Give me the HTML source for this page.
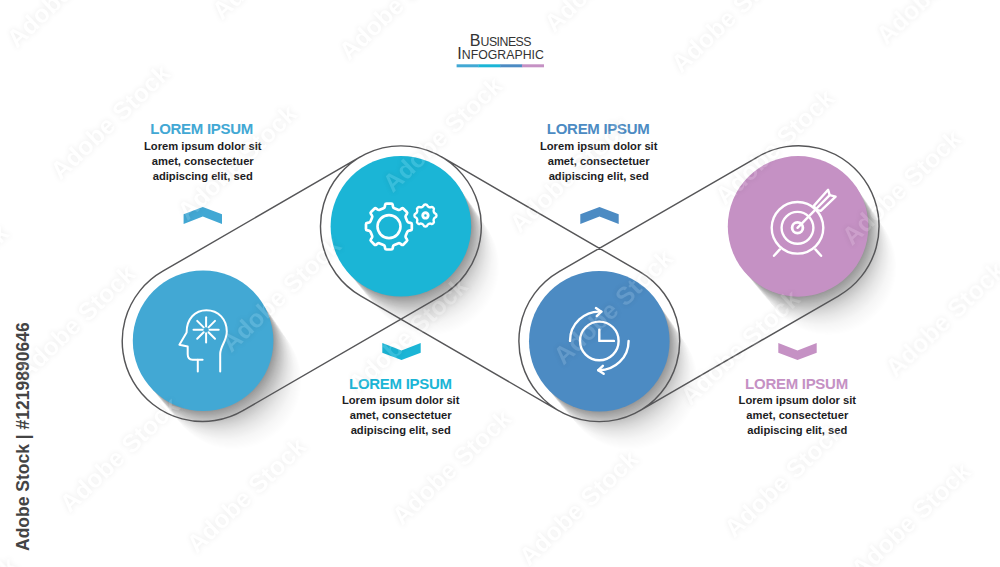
<!DOCTYPE html>
<html lang="en">
<head>
<meta charset="utf-8">
<title>Business Infographic</title>
<style>
html,body{margin:0;padding:0;background:#fff;}
body{width:1000px;height:567px;overflow:hidden;position:relative;font-family:"Liberation Sans",sans-serif;}
svg{position:absolute;left:0;top:0;display:block;}
text{font-family:"Liberation Sans",sans-serif;}
.h{font-weight:bold;font-size:15px;letter-spacing:-0.28px;}
.b{font-weight:bold;font-size:11.2px;fill:#1d1d1f;letter-spacing:0;}
.t1{font-size:16.1px;fill:#333;}
.t2{font-size:12.3px;fill:#333;letter-spacing:-0.5px;}
.t3{font-size:12.3px;fill:#333;letter-spacing:0px;}
.ic{fill:none;stroke:#fff;stroke-linecap:round;stroke-linejoin:round;}
</style>
</head>
<body>
<svg width="1000" height="567" viewBox="0 0 1000 567">
<rect width="1000" height="567" fill="#fff"/>

<g text-anchor="middle">
<text x="500.4" y="45.8"><tspan class="t1">B</tspan><tspan class="t2">USINESS</tspan></text>
<text x="500.6" y="59.1"><tspan class="t1">I</tspan><tspan class="t3">NFOGRAPHIC</tspan></text>
</g>
<rect x="456.60" y="64.3" width="22.08" height="3" fill="#42a8d4"/>
<rect x="478.38" y="64.3" width="22.08" height="3" fill="#1bb5d6"/>
<rect x="500.15" y="64.3" width="22.08" height="3" fill="#4c8bc3"/>
<rect x="521.93" y="64.3" width="22.08" height="3" fill="#c591c4"/>
<g id="shadows">
<g fill="#000">
<circle cx="243.5" cy="394.5" r="68.00" fill-opacity="0.0000"/>
<circle cx="242.7" cy="393.4" r="68.04" fill-opacity="0.0001"/>
<circle cx="241.9" cy="392.2" r="68.08" fill-opacity="0.0001"/>
<circle cx="241.0" cy="391.1" r="68.12" fill-opacity="0.0003"/>
<circle cx="240.2" cy="390.0" r="68.16" fill-opacity="0.0004"/>
<circle cx="239.3" cy="388.9" r="68.20" fill-opacity="0.0005"/>
<circle cx="238.5" cy="387.8" r="68.24" fill-opacity="0.0007"/>
<circle cx="237.6" cy="386.6" r="68.28" fill-opacity="0.0009"/>
<circle cx="236.8" cy="385.5" r="68.32" fill-opacity="0.0011"/>
<circle cx="236.0" cy="384.4" r="68.36" fill-opacity="0.0014"/>
<circle cx="235.1" cy="383.3" r="68.40" fill-opacity="0.0016"/>
<circle cx="234.3" cy="382.2" r="68.44" fill-opacity="0.0019"/>
<circle cx="233.4" cy="381.1" r="68.47" fill-opacity="0.0022"/>
<circle cx="232.6" cy="379.9" r="68.51" fill-opacity="0.0025"/>
<circle cx="231.7" cy="378.8" r="68.55" fill-opacity="0.0028"/>
<circle cx="230.9" cy="377.7" r="68.59" fill-opacity="0.0032"/>
<circle cx="230.1" cy="376.6" r="68.63" fill-opacity="0.0035"/>
<circle cx="229.2" cy="375.5" r="68.67" fill-opacity="0.0039"/>
<circle cx="228.4" cy="374.3" r="68.71" fill-opacity="0.0043"/>
<circle cx="227.5" cy="373.2" r="68.75" fill-opacity="0.0048"/>
<circle cx="226.7" cy="372.1" r="68.79" fill-opacity="0.0052"/>
<circle cx="225.8" cy="371.0" r="68.83" fill-opacity="0.0057"/>
<circle cx="225.0" cy="369.9" r="68.87" fill-opacity="0.0062"/>
<circle cx="224.2" cy="368.8" r="68.91" fill-opacity="0.0067"/>
<circle cx="223.3" cy="367.6" r="68.95" fill-opacity="0.0072"/>
<circle cx="222.5" cy="366.5" r="68.99" fill-opacity="0.0078"/>
<circle cx="221.6" cy="365.4" r="69.03" fill-opacity="0.0084"/>
<circle cx="220.8" cy="364.3" r="69.07" fill-opacity="0.0090"/>
<circle cx="220.0" cy="363.2" r="69.11" fill-opacity="0.0097"/>
<circle cx="219.1" cy="362.0" r="69.15" fill-opacity="0.0104"/>
<circle cx="218.3" cy="360.9" r="69.19" fill-opacity="0.0111"/>
<circle cx="217.4" cy="359.8" r="69.23" fill-opacity="0.0118"/>
<circle cx="216.6" cy="358.7" r="69.27" fill-opacity="0.0126"/>
<circle cx="215.7" cy="357.6" r="69.31" fill-opacity="0.0135"/>
<circle cx="214.9" cy="356.5" r="69.35" fill-opacity="0.0143"/>
<circle cx="214.1" cy="355.3" r="69.39" fill-opacity="0.0153"/>
<circle cx="213.2" cy="354.2" r="69.43" fill-opacity="0.0163"/>
<circle cx="212.4" cy="353.1" r="69.46" fill-opacity="0.0173"/>
<circle cx="211.5" cy="352.0" r="69.50" fill-opacity="0.0184"/>
<circle cx="210.7" cy="350.9" r="69.54" fill-opacity="0.0196"/>
<circle cx="209.8" cy="349.7" r="69.58" fill-opacity="0.0209"/>
<circle cx="209.0" cy="348.6" r="69.62" fill-opacity="0.0222"/>
<circle cx="208.2" cy="347.5" r="69.66" fill-opacity="0.0236"/>
<circle cx="207.3" cy="346.4" r="69.70" fill-opacity="0.0252"/>
<circle cx="206.5" cy="345.3" r="69.74" fill-opacity="0.0269"/>
<circle cx="205.6" cy="344.2" r="69.78" fill-opacity="0.0287"/>
<circle cx="204.8" cy="343.0" r="69.82" fill-opacity="0.0306"/>
<circle cx="203.9" cy="341.9" r="69.86" fill-opacity="0.0328"/>
</g>
<g fill="#000">
<circle cx="441.3" cy="280.0" r="68.00" fill-opacity="0.0000"/>
<circle cx="440.5" cy="278.9" r="68.04" fill-opacity="0.0001"/>
<circle cx="439.7" cy="277.7" r="68.08" fill-opacity="0.0001"/>
<circle cx="438.8" cy="276.6" r="68.12" fill-opacity="0.0003"/>
<circle cx="438.0" cy="275.5" r="68.16" fill-opacity="0.0004"/>
<circle cx="437.1" cy="274.4" r="68.20" fill-opacity="0.0005"/>
<circle cx="436.3" cy="273.3" r="68.24" fill-opacity="0.0007"/>
<circle cx="435.4" cy="272.1" r="68.28" fill-opacity="0.0009"/>
<circle cx="434.6" cy="271.0" r="68.32" fill-opacity="0.0011"/>
<circle cx="433.8" cy="269.9" r="68.36" fill-opacity="0.0014"/>
<circle cx="432.9" cy="268.8" r="68.40" fill-opacity="0.0016"/>
<circle cx="432.1" cy="267.7" r="68.44" fill-opacity="0.0019"/>
<circle cx="431.2" cy="266.6" r="68.47" fill-opacity="0.0022"/>
<circle cx="430.4" cy="265.4" r="68.51" fill-opacity="0.0025"/>
<circle cx="429.5" cy="264.3" r="68.55" fill-opacity="0.0028"/>
<circle cx="428.7" cy="263.2" r="68.59" fill-opacity="0.0032"/>
<circle cx="427.9" cy="262.1" r="68.63" fill-opacity="0.0035"/>
<circle cx="427.0" cy="261.0" r="68.67" fill-opacity="0.0039"/>
<circle cx="426.2" cy="259.8" r="68.71" fill-opacity="0.0043"/>
<circle cx="425.3" cy="258.7" r="68.75" fill-opacity="0.0048"/>
<circle cx="424.5" cy="257.6" r="68.79" fill-opacity="0.0052"/>
<circle cx="423.6" cy="256.5" r="68.83" fill-opacity="0.0057"/>
<circle cx="422.8" cy="255.4" r="68.87" fill-opacity="0.0062"/>
<circle cx="422.0" cy="254.3" r="68.91" fill-opacity="0.0067"/>
<circle cx="421.1" cy="253.1" r="68.95" fill-opacity="0.0072"/>
<circle cx="420.3" cy="252.0" r="68.99" fill-opacity="0.0078"/>
<circle cx="419.4" cy="250.9" r="69.03" fill-opacity="0.0084"/>
<circle cx="418.6" cy="249.8" r="69.07" fill-opacity="0.0090"/>
<circle cx="417.8" cy="248.7" r="69.11" fill-opacity="0.0097"/>
<circle cx="416.9" cy="247.5" r="69.15" fill-opacity="0.0104"/>
<circle cx="416.1" cy="246.4" r="69.19" fill-opacity="0.0111"/>
<circle cx="415.2" cy="245.3" r="69.23" fill-opacity="0.0118"/>
<circle cx="414.4" cy="244.2" r="69.27" fill-opacity="0.0126"/>
<circle cx="413.5" cy="243.1" r="69.31" fill-opacity="0.0135"/>
<circle cx="412.7" cy="242.0" r="69.35" fill-opacity="0.0143"/>
<circle cx="411.9" cy="240.8" r="69.39" fill-opacity="0.0153"/>
<circle cx="411.0" cy="239.7" r="69.43" fill-opacity="0.0163"/>
<circle cx="410.2" cy="238.6" r="69.46" fill-opacity="0.0173"/>
<circle cx="409.3" cy="237.5" r="69.50" fill-opacity="0.0184"/>
<circle cx="408.5" cy="236.4" r="69.54" fill-opacity="0.0196"/>
<circle cx="407.6" cy="235.2" r="69.58" fill-opacity="0.0209"/>
<circle cx="406.8" cy="234.1" r="69.62" fill-opacity="0.0222"/>
<circle cx="406.0" cy="233.0" r="69.66" fill-opacity="0.0236"/>
<circle cx="405.1" cy="231.9" r="69.70" fill-opacity="0.0252"/>
<circle cx="404.3" cy="230.8" r="69.74" fill-opacity="0.0269"/>
<circle cx="403.4" cy="229.7" r="69.78" fill-opacity="0.0287"/>
<circle cx="402.6" cy="228.5" r="69.82" fill-opacity="0.0306"/>
<circle cx="401.7" cy="227.4" r="69.86" fill-opacity="0.0328"/>
</g>
<g fill="#000">
<circle cx="639.7" cy="394.9" r="68.00" fill-opacity="0.0000"/>
<circle cx="638.9" cy="393.8" r="68.04" fill-opacity="0.0001"/>
<circle cx="638.1" cy="392.6" r="68.08" fill-opacity="0.0001"/>
<circle cx="637.2" cy="391.5" r="68.12" fill-opacity="0.0003"/>
<circle cx="636.4" cy="390.4" r="68.16" fill-opacity="0.0004"/>
<circle cx="635.5" cy="389.3" r="68.20" fill-opacity="0.0005"/>
<circle cx="634.7" cy="388.2" r="68.24" fill-opacity="0.0007"/>
<circle cx="633.8" cy="387.0" r="68.28" fill-opacity="0.0009"/>
<circle cx="633.0" cy="385.9" r="68.32" fill-opacity="0.0011"/>
<circle cx="632.2" cy="384.8" r="68.36" fill-opacity="0.0014"/>
<circle cx="631.3" cy="383.7" r="68.40" fill-opacity="0.0016"/>
<circle cx="630.5" cy="382.6" r="68.44" fill-opacity="0.0019"/>
<circle cx="629.6" cy="381.5" r="68.47" fill-opacity="0.0022"/>
<circle cx="628.8" cy="380.3" r="68.51" fill-opacity="0.0025"/>
<circle cx="627.9" cy="379.2" r="68.55" fill-opacity="0.0028"/>
<circle cx="627.1" cy="378.1" r="68.59" fill-opacity="0.0032"/>
<circle cx="626.3" cy="377.0" r="68.63" fill-opacity="0.0035"/>
<circle cx="625.4" cy="375.9" r="68.67" fill-opacity="0.0039"/>
<circle cx="624.6" cy="374.7" r="68.71" fill-opacity="0.0043"/>
<circle cx="623.7" cy="373.6" r="68.75" fill-opacity="0.0048"/>
<circle cx="622.9" cy="372.5" r="68.79" fill-opacity="0.0052"/>
<circle cx="622.0" cy="371.4" r="68.83" fill-opacity="0.0057"/>
<circle cx="621.2" cy="370.3" r="68.87" fill-opacity="0.0062"/>
<circle cx="620.4" cy="369.2" r="68.91" fill-opacity="0.0067"/>
<circle cx="619.5" cy="368.0" r="68.95" fill-opacity="0.0072"/>
<circle cx="618.7" cy="366.9" r="68.99" fill-opacity="0.0078"/>
<circle cx="617.8" cy="365.8" r="69.03" fill-opacity="0.0084"/>
<circle cx="617.0" cy="364.7" r="69.07" fill-opacity="0.0090"/>
<circle cx="616.2" cy="363.6" r="69.11" fill-opacity="0.0097"/>
<circle cx="615.3" cy="362.4" r="69.15" fill-opacity="0.0104"/>
<circle cx="614.5" cy="361.3" r="69.19" fill-opacity="0.0111"/>
<circle cx="613.6" cy="360.2" r="69.23" fill-opacity="0.0118"/>
<circle cx="612.8" cy="359.1" r="69.27" fill-opacity="0.0126"/>
<circle cx="611.9" cy="358.0" r="69.31" fill-opacity="0.0135"/>
<circle cx="611.1" cy="356.9" r="69.35" fill-opacity="0.0143"/>
<circle cx="610.3" cy="355.7" r="69.39" fill-opacity="0.0153"/>
<circle cx="609.4" cy="354.6" r="69.43" fill-opacity="0.0163"/>
<circle cx="608.6" cy="353.5" r="69.46" fill-opacity="0.0173"/>
<circle cx="607.7" cy="352.4" r="69.50" fill-opacity="0.0184"/>
<circle cx="606.9" cy="351.3" r="69.54" fill-opacity="0.0196"/>
<circle cx="606.0" cy="350.1" r="69.58" fill-opacity="0.0209"/>
<circle cx="605.2" cy="349.0" r="69.62" fill-opacity="0.0222"/>
<circle cx="604.4" cy="347.9" r="69.66" fill-opacity="0.0236"/>
<circle cx="603.5" cy="346.8" r="69.70" fill-opacity="0.0252"/>
<circle cx="602.7" cy="345.7" r="69.74" fill-opacity="0.0269"/>
<circle cx="601.8" cy="344.6" r="69.78" fill-opacity="0.0287"/>
<circle cx="601.0" cy="343.4" r="69.82" fill-opacity="0.0306"/>
<circle cx="600.1" cy="342.3" r="69.86" fill-opacity="0.0328"/>
</g>
<g fill="#000">
<circle cx="838.5" cy="280.1" r="68.00" fill-opacity="0.0000"/>
<circle cx="837.7" cy="279.0" r="68.04" fill-opacity="0.0001"/>
<circle cx="836.9" cy="277.8" r="68.08" fill-opacity="0.0001"/>
<circle cx="836.0" cy="276.7" r="68.12" fill-opacity="0.0003"/>
<circle cx="835.2" cy="275.6" r="68.16" fill-opacity="0.0004"/>
<circle cx="834.3" cy="274.5" r="68.20" fill-opacity="0.0005"/>
<circle cx="833.5" cy="273.4" r="68.24" fill-opacity="0.0007"/>
<circle cx="832.6" cy="272.2" r="68.28" fill-opacity="0.0009"/>
<circle cx="831.8" cy="271.1" r="68.32" fill-opacity="0.0011"/>
<circle cx="831.0" cy="270.0" r="68.36" fill-opacity="0.0014"/>
<circle cx="830.1" cy="268.9" r="68.40" fill-opacity="0.0016"/>
<circle cx="829.3" cy="267.8" r="68.44" fill-opacity="0.0019"/>
<circle cx="828.4" cy="266.7" r="68.47" fill-opacity="0.0022"/>
<circle cx="827.6" cy="265.5" r="68.51" fill-opacity="0.0025"/>
<circle cx="826.7" cy="264.4" r="68.55" fill-opacity="0.0028"/>
<circle cx="825.9" cy="263.3" r="68.59" fill-opacity="0.0032"/>
<circle cx="825.1" cy="262.2" r="68.63" fill-opacity="0.0035"/>
<circle cx="824.2" cy="261.1" r="68.67" fill-opacity="0.0039"/>
<circle cx="823.4" cy="259.9" r="68.71" fill-opacity="0.0043"/>
<circle cx="822.5" cy="258.8" r="68.75" fill-opacity="0.0048"/>
<circle cx="821.7" cy="257.7" r="68.79" fill-opacity="0.0052"/>
<circle cx="820.8" cy="256.6" r="68.83" fill-opacity="0.0057"/>
<circle cx="820.0" cy="255.5" r="68.87" fill-opacity="0.0062"/>
<circle cx="819.2" cy="254.4" r="68.91" fill-opacity="0.0067"/>
<circle cx="818.3" cy="253.2" r="68.95" fill-opacity="0.0072"/>
<circle cx="817.5" cy="252.1" r="68.99" fill-opacity="0.0078"/>
<circle cx="816.6" cy="251.0" r="69.03" fill-opacity="0.0084"/>
<circle cx="815.8" cy="249.9" r="69.07" fill-opacity="0.0090"/>
<circle cx="815.0" cy="248.8" r="69.11" fill-opacity="0.0097"/>
<circle cx="814.1" cy="247.6" r="69.15" fill-opacity="0.0104"/>
<circle cx="813.3" cy="246.5" r="69.19" fill-opacity="0.0111"/>
<circle cx="812.4" cy="245.4" r="69.23" fill-opacity="0.0118"/>
<circle cx="811.6" cy="244.3" r="69.27" fill-opacity="0.0126"/>
<circle cx="810.7" cy="243.2" r="69.31" fill-opacity="0.0135"/>
<circle cx="809.9" cy="242.1" r="69.35" fill-opacity="0.0143"/>
<circle cx="809.1" cy="240.9" r="69.39" fill-opacity="0.0153"/>
<circle cx="808.2" cy="239.8" r="69.43" fill-opacity="0.0163"/>
<circle cx="807.4" cy="238.7" r="69.46" fill-opacity="0.0173"/>
<circle cx="806.5" cy="237.6" r="69.50" fill-opacity="0.0184"/>
<circle cx="805.7" cy="236.5" r="69.54" fill-opacity="0.0196"/>
<circle cx="804.8" cy="235.3" r="69.58" fill-opacity="0.0209"/>
<circle cx="804.0" cy="234.2" r="69.62" fill-opacity="0.0222"/>
<circle cx="803.2" cy="233.1" r="69.66" fill-opacity="0.0236"/>
<circle cx="802.3" cy="232.0" r="69.70" fill-opacity="0.0252"/>
<circle cx="801.5" cy="230.9" r="69.74" fill-opacity="0.0269"/>
<circle cx="800.6" cy="229.8" r="69.78" fill-opacity="0.0287"/>
<circle cx="799.8" cy="228.6" r="69.82" fill-opacity="0.0306"/>
<circle cx="798.9" cy="227.5" r="69.86" fill-opacity="0.0328"/>
</g>
</g>
<path fill="none" stroke="#565658" stroke-width="1.45" stroke-linecap="round" d="M162.82 271.22 L360.62 156.72 M243.38 410.38 L441.18 295.88 M441.19 156.73 L639.59 271.63 M360.61 295.87 L559.01 410.77 M559.09 271.58 L757.89 156.78 M639.51 410.82 L838.31 296.02 M162.82 271.22 A80.40 80.40 0 1 0 243.38 410.38 M360.61 295.87 A80.40 80.40 0 1 1 441.18 295.88 M639.59 271.63 A80.40 80.40 0 1 1 559.09 271.58 M757.89 156.78 A80.40 80.40 0 1 1 838.31 296.02"/>
<circle cx="203.10" cy="340.80" r="70.3" fill="#42a8d4"/>
<circle cx="400.90" cy="226.30" r="70.3" fill="#1bb5d6"/>
<circle cx="599.30" cy="341.20" r="70.3" fill="#4c8bc3"/>
<circle cx="798.10" cy="226.40" r="70.3" fill="#c591c4"/>
<polygon points="183.6,214.2 202.8,207.1 222.0,214.2 222.0,223.9 202.8,216.5 183.6,223.9" fill="#42a8d4"/>
<polygon points="580.3,214.2 599.5,207.1 618.7,214.2 618.7,223.9 599.5,216.5 580.3,223.9" fill="#4c8bc3"/>
<polygon points="382.3,352.8 401.5,359.9 420.7,352.8 420.7,343.1 401.5,350.5 382.3,343.1" fill="#1bb5d6"/>
<polygon points="778.3,352.8 797.5,359.9 816.7,352.8 816.7,343.1 797.5,350.5 778.3,343.1" fill="#c591c4"/>
<g text-anchor="middle">
<text class="h" x="201.65" y="134.4" fill="#42a8d4">LOREM IPSUM</text>
<text class="b" x="202.75" y="149.7">Lorem ipsum dolor sit</text>
<text class="b" x="202.75" y="164.7">amet, consectetuer</text>
<text class="b" x="202.75" y="179.7">adipiscing elit, sed</text>
</g>
<g text-anchor="middle">
<text class="h" x="598.20" y="134.4" fill="#4c8bc3">LOREM IPSUM</text>
<text class="b" x="598.70" y="149.7">Lorem ipsum dolor sit</text>
<text class="b" x="598.70" y="164.7">amet, consectetuer</text>
<text class="b" x="598.70" y="179.7">adipiscing elit, sed</text>
</g>
<g text-anchor="middle">
<text class="h" x="400.40" y="388.9" fill="#1bb5d6">LOREM IPSUM</text>
<text class="b" x="400.70" y="404.2">Lorem ipsum dolor sit</text>
<text class="b" x="400.70" y="419.2">amet, consectetuer</text>
<text class="b" x="400.70" y="434.2">adipiscing elit, sed</text>
</g>
<g text-anchor="middle">
<text class="h" x="796.50" y="388.9" fill="#c591c4">LOREM IPSUM</text>
<text class="b" x="797.30" y="404.2">Lorem ipsum dolor sit</text>
<text class="b" x="797.30" y="419.2">amet, consectetuer</text>
<text class="b" x="797.30" y="434.2">adipiscing elit, sed</text>
</g>
<g class="ic" stroke-width="2">
<path d="M197.8 371.6 V359.8"/>
<path d="M202.6 359.8 H192.6 Q187.7 359.4 187.7 354.2 V346.6 L179.4 344.8 L186.6 332.4 C186.6 319 195 310.2 206.4 310.2 C218.6 310.2 226.8 319.5 226.8 331.5 C226.8 341 220.2 346 220.2 354 V371.6"/>
<path d="M209.50 329.80 L218.70 329.80"/>
<path d="M208.50 332.20 L215.01 338.71"/>
<path d="M206.10 333.20 L206.10 342.40"/>
<path d="M203.70 332.20 L197.19 338.71"/>
<path d="M202.70 329.80 L193.50 329.80"/>
<path d="M203.70 327.40 L197.19 320.89"/>
<path d="M206.10 326.40 L206.10 317.20"/>
<path d="M208.50 327.40 L215.01 320.89"/>
</g>
<g class="ic" stroke-width="2.7">
<path d="M407.24 221.19 Q407.74 222.39 409.02 222.57 L410.53 222.79 Q411.81 222.97 411.81 224.27 L411.81 228.93 Q411.81 230.23 410.53 230.41 L409.02 230.63 Q407.74 230.81 407.24 232.01 L405.69 235.74 Q405.20 236.94 405.98 237.98 L406.89 239.20 Q407.67 240.24 406.75 241.16 L403.46 244.45 Q402.54 245.37 401.50 244.59 L400.28 243.68 Q399.24 242.90 398.04 243.39 L394.31 244.94 Q393.11 245.44 392.93 246.72 L392.71 248.23 Q392.53 249.51 391.23 249.51 L386.57 249.51 Q385.27 249.51 385.09 248.23 L384.87 246.72 Q384.69 245.44 383.49 244.94 L379.76 243.39 Q378.56 242.90 377.52 243.68 L376.30 244.59 Q375.26 245.37 374.34 244.45 L371.05 241.16 Q370.13 240.24 370.91 239.20 L371.82 237.98 Q372.60 236.94 372.11 235.74 L370.56 232.01 Q370.06 230.81 368.78 230.63 L367.27 230.41 Q365.99 230.23 365.99 228.93 L365.99 224.27 Q365.99 222.97 367.27 222.79 L368.78 222.57 Q370.06 222.39 370.56 221.19 L372.11 217.46 Q372.60 216.26 371.82 215.22 L370.91 214.00 Q370.13 212.96 371.05 212.04 L374.34 208.75 Q375.26 207.83 376.30 208.61 L377.52 209.52 Q378.56 210.30 379.76 209.81 L383.49 208.26 Q384.69 207.76 384.87 206.48 L385.09 204.97 Q385.27 203.69 386.57 203.69 L391.23 203.69 Q392.53 203.69 392.71 204.97 L392.93 206.48 Q393.11 207.76 394.31 208.26 L398.04 209.81 Q399.24 210.30 400.28 209.52 L401.50 208.61 Q402.54 207.83 403.46 208.75 L406.75 212.04 Q407.67 212.96 406.89 214.00 L405.98 215.22 Q405.20 216.26 405.69 217.46 Z"/>
<circle cx="389.0" cy="226.6" r="11.5" stroke-width="2.6"/>
<path d="M433.88 212.03 Q434.38 213.23 435.41 213.60 L435.41 213.60 Q436.45 213.97 436.45 215.27 L436.45 215.63 Q436.45 216.93 435.41 217.30 L435.41 217.30 Q434.38 217.67 433.88 218.87 L433.83 218.99 Q433.33 220.20 433.80 221.19 L433.80 221.19 Q434.27 222.18 433.35 223.10 L433.10 223.35 Q432.18 224.27 431.19 223.80 L431.19 223.80 Q430.20 223.33 428.99 223.83 L428.87 223.88 Q427.67 224.38 427.30 225.41 L427.30 225.41 Q426.93 226.45 425.63 226.45 L425.27 226.45 Q423.97 226.45 423.60 225.41 L423.60 225.41 Q423.23 224.38 422.03 223.88 L421.91 223.83 Q420.70 223.33 419.71 223.80 L419.71 223.80 Q418.72 224.27 417.80 223.35 L417.55 223.10 Q416.63 222.18 417.10 221.19 L417.10 221.19 Q417.57 220.20 417.07 218.99 L417.02 218.87 Q416.52 217.67 415.49 217.30 L415.49 217.30 Q414.45 216.93 414.45 215.63 L414.45 215.27 Q414.45 213.97 415.49 213.60 L415.49 213.60 Q416.52 213.23 417.02 212.03 L417.07 211.91 Q417.57 210.70 417.10 209.71 L417.10 209.71 Q416.63 208.72 417.55 207.80 L417.80 207.55 Q418.72 206.63 419.71 207.10 L419.71 207.10 Q420.70 207.57 421.91 207.07 L422.03 207.02 Q423.23 206.52 423.60 205.49 L423.60 205.49 Q423.97 204.45 425.27 204.45 L425.63 204.45 Q426.93 204.45 427.30 205.49 L427.30 205.49 Q427.67 206.52 428.87 207.02 L428.99 207.07 Q430.20 207.57 431.19 207.10 L431.19 207.10 Q432.18 206.63 433.10 207.55 L433.35 207.80 Q434.27 208.72 433.80 209.71 L433.80 209.71 Q433.33 210.70 433.83 211.91 Z" stroke-width="2.4"/>
<circle cx="425.45" cy="215.45" r="2.7" stroke-width="2.9"/>
</g>
<g class="ic" stroke-width="2.4">
<circle cx="599.30" cy="340.90" r="19.3"/>
<path d="M599.30 329.60 V340.90 H613.90"/>
<path d="M570.00 340.90 A29.30 29.30 0 0 1 601.34 311.67"/>
<path d="M595.94 308.07 L601.34 311.67 L596.74 316.07"/>
<path d="M628.60 340.90 A29.30 29.30 0 0 1 598.28 370.18"/>
<path d="M603.68 373.78 L598.28 370.18 L602.88 365.78"/>
</g>
<g class="ic" stroke-width="2.4">
<circle cx="797.50" cy="227.80" r="25.8"/>
<circle cx="797.50" cy="227.80" r="15.9"/>
<circle cx="797.50" cy="227.80" r="5.4" stroke-width="2.8"/>
<path d="M779.8 249.4 L774 255.8 M815.4 249.4 L821.1 255.8"/>
<path d="M797.50 227.80 L829.7 195.1"/>
<path d="M815.6 209.6 L814.0 205.6 L828.1 189.8 L829.7 195.1 L835.6 196.6 L820.7 210.9 Z"/>
</g>
<text transform="translate(29.2 551.0) rotate(-90)" font-weight="bold" font-size="18.8" fill="#444" textLength="228.7" lengthAdjust="spacingAndGlyphs">Adobe Stock | #1219890646</text>
<defs><filter id="wb" x="0" y="0" width="1000" height="567" filterUnits="userSpaceOnUse" color-interpolation-filters="sRGB"><feGaussianBlur in="SourceAlpha" stdDeviation="2.4" result="b"/><feComposite in="b" in2="SourceAlpha" operator="out" result="o"/><feColorMatrix in="o" type="matrix" values="0 0 0 0 0  0 0 0 0 0  0 0 0 0 0  0 0 0 0.075 0" result="halo"/><feColorMatrix in="SourceAlpha" type="matrix" values="0 0 0 0 1  0 0 0 0 1  0 0 0 0 1  0 0 0 0.130 0" result="wl"/><feMerge><feMergeNode in="halo"/><feMergeNode in="wl"/></feMerge></filter></defs>
<g id="wmt" font-weight="bold" font-size="25" fill="#000" filter="url(#wb)">
<text transform="translate(-110.1 8.4) rotate(-43.6)" textLength="153.5" lengthAdjust="spacing">Adobe Stock</text>
<text transform="translate(16.8 48.9) rotate(-43.6)" textLength="153.5" lengthAdjust="spacing">Adobe Stock</text>
<text transform="translate(222.1 20.9) rotate(-43.6)" textLength="153.5" lengthAdjust="spacing">Adobe Stock</text>
<text transform="translate(349.0 61.4) rotate(-43.6)" textLength="153.5" lengthAdjust="spacing">Adobe Stock</text>
<text transform="translate(60.6 181.0) rotate(-43.6)" textLength="153.5" lengthAdjust="spacing">Adobe Stock</text>
<text transform="translate(187.5 221.5) rotate(-43.6)" textLength="153.5" lengthAdjust="spacing">Adobe Stock</text>
<text transform="translate(-100.9 341.1) rotate(-43.6)" textLength="153.5" lengthAdjust="spacing">Adobe Stock</text>
<text transform="translate(26.0 381.6) rotate(-43.6)" textLength="153.5" lengthAdjust="spacing">Adobe Stock</text>
<text transform="translate(554.3 33.4) rotate(-43.6)" textLength="153.5" lengthAdjust="spacing">Adobe Stock</text>
<text transform="translate(681.2 73.9) rotate(-43.6)" textLength="153.5" lengthAdjust="spacing">Adobe Stock</text>
<text transform="translate(392.8 193.5) rotate(-43.6)" textLength="153.5" lengthAdjust="spacing">Adobe Stock</text>
<text transform="translate(519.7 234.0) rotate(-43.6)" textLength="153.5" lengthAdjust="spacing">Adobe Stock</text>
<text transform="translate(231.3 353.6) rotate(-43.6)" textLength="153.5" lengthAdjust="spacing">Adobe Stock</text>
<text transform="translate(358.2 394.1) rotate(-43.6)" textLength="153.5" lengthAdjust="spacing">Adobe Stock</text>
<text transform="translate(69.8 513.7) rotate(-43.6)" textLength="153.5" lengthAdjust="spacing">Adobe Stock</text>
<text transform="translate(196.7 554.2) rotate(-43.6)" textLength="153.5" lengthAdjust="spacing">Adobe Stock</text>
<text transform="translate(-91.7 673.8) rotate(-43.6)" textLength="153.5" lengthAdjust="spacing">Adobe Stock</text>
<text transform="translate(886.5 45.9) rotate(-43.6)" textLength="153.5" lengthAdjust="spacing">Adobe Stock</text>
<text transform="translate(725.0 206.0) rotate(-43.6)" textLength="153.5" lengthAdjust="spacing">Adobe Stock</text>
<text transform="translate(851.9 246.5) rotate(-43.6)" textLength="153.5" lengthAdjust="spacing">Adobe Stock</text>
<text transform="translate(563.5 366.1) rotate(-43.6)" textLength="153.5" lengthAdjust="spacing">Adobe Stock</text>
<text transform="translate(690.4 406.6) rotate(-43.6)" textLength="153.5" lengthAdjust="spacing">Adobe Stock</text>
<text transform="translate(402.0 526.2) rotate(-43.6)" textLength="153.5" lengthAdjust="spacing">Adobe Stock</text>
<text transform="translate(528.9 566.7) rotate(-43.6)" textLength="153.5" lengthAdjust="spacing">Adobe Stock</text>
<text transform="translate(895.7 378.6) rotate(-43.6)" textLength="153.5" lengthAdjust="spacing">Adobe Stock</text>
<text transform="translate(734.2 538.7) rotate(-43.6)" textLength="153.5" lengthAdjust="spacing">Adobe Stock</text>
<text transform="translate(861.1 579.2) rotate(-43.6)" textLength="153.5" lengthAdjust="spacing">Adobe Stock</text>
</g>
</svg>
</body>
</html>
